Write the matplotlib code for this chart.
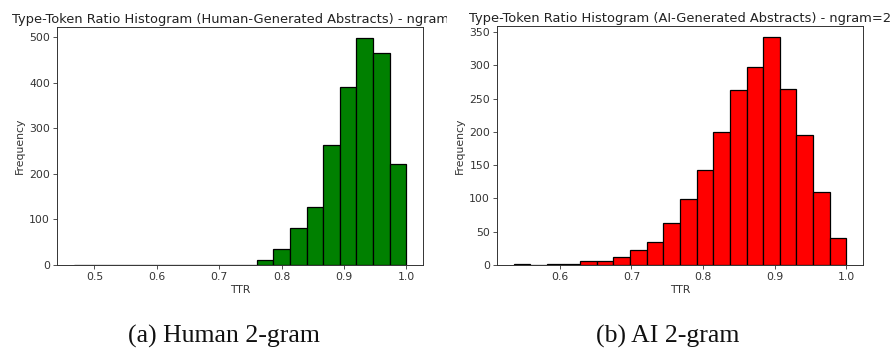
import numpy as np
import matplotlib
matplotlib.use("Agg")
import matplotlib.pyplot as plt
from matplotlib.transforms import Bbox

# Human-generated abstracts, 2-gram TTR histogram (20 bins)
human_range = (0.4667, 1.0)
human_counts = [1, 0, 0, 0, 0, 0, 0, 1, 0, 1, 1, 10, 36, 82, 127, 264, 391, 498, 466, 221]

# AI-generated abstracts, 2-gram TTR histogram (20 bins)
ai_range = (0.5356, 1.0)
ai_counts = [1, 0, 1, 1, 6, 6, 12, 23, 35, 63, 99, 143, 200, 263, 297, 342, 264, 196, 109, 40]

titles = ["Type-Token Ratio Histogram (Human-Generated Abstracts) - ngram=2",
          "Type-Token Ratio Histogram (AI-Generated Abstracts) - ngram=2"]
captions = ["(a) Human 2-gram", "(b) AI 2-gram"]
colors = ["green", "red"]
xticks_list = [[0.5, 0.6, 0.7, 0.8, 0.9, 1.0], [0.6, 0.7, 0.8, 0.9, 1.0]]
yticks_list = [[0, 100, 200, 300, 400, 500], [0, 50, 100, 150, 200, 250, 300, 350]]

W, H = 895, 354
fig = plt.figure(figsize=(W / 100, H / 100), dpi=100)

boxes = [(57, 27, 423, 265), (497, 26, 863, 265)]
caption_x = [224, 668]
clip_right = [447, 895]

for i, (rng, counts) in enumerate([(human_range, human_counts), (ai_range, ai_counts)]):
    x0, y0, x1, y1 = boxes[i]
    ax = fig.add_axes([x0 / W, 1 - y1 / H, (x1 - x0) / W, (y1 - y0) / H])
    edges = np.linspace(rng[0], rng[1], len(counts) + 1)
    centers = (edges[:-1] + edges[1:]) / 2
    ax.hist(centers, bins=edges, weights=counts, color=colors[i],
            edgecolor="black", linewidth=0.9)
    ax.set_xticks(xticks_list[i])
    ax.set_xticklabels([f"{t:.1f}" for t in xticks_list[i]])
    ax.set_yticks(yticks_list[i])
    ax.tick_params(labelsize=7.8, colors="#333333", length=3, width=0.6, pad=2)
    for s in ax.spines.values():
        s.set_linewidth(0.7)
        s.set_color("#333333")
    ax.set_xlabel("TTR", fontsize=7.8, color="#333333", labelpad=2)
    ax.set_ylabel("Frequency", fontsize=7.8, color="#333333", labelpad=3)
    t = ax.set_title(titles[i], fontsize=9.4, color="#222222", pad=3)
    t.set_clip_on(True)
    t.set_clip_box(Bbox.from_extents(0, 0, clip_right[i], H))
    fig.text(caption_x[i] / W, 1 - 336 / H, captions[i], ha="center", va="center",
             fontsize=18.5, family="Liberation Serif", color="#111111")

fig.savefig("out.png", dpi=100)
